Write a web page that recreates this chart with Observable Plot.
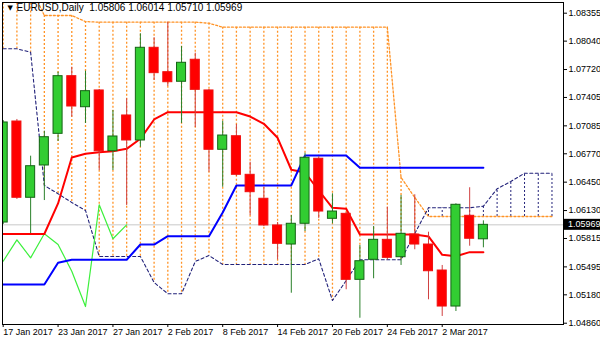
<!DOCTYPE html>
<html><head><meta charset="utf-8">
<script src="https://cdn.jsdelivr.net/npm/d3@7"></script>
<script src="https://cdn.jsdelivr.net/npm/@observablehq/plot@0.6"></script>
<style>
html,body{margin:0;padding:0;background:#fff;}
#chart{width:600px;height:343px;overflow:hidden}
svg{display:block}
</style></head><body><div id="chart"></div>
<script>
const FONT = '"Liberation Sans Narrow","Arial Narrow","Liberation Sans",Arial,sans-serif';
const symbolName = "EURUSD,Daily";
const dateLabels = ["17 Jan 2017","23 Jan 2017","27 Jan 2017","2 Feb 2017","8 Feb 2017","14 Feb 2017","20 Feb 2017","24 Feb 2017","2 Mar 2017"];
const dateTickBars = [0,4,8,12,16,20,24,28,32];
const priceTicks = [1.08355,1.08040,1.07720,1.07405,1.07085,1.06770,1.06450,1.06130,1.05815,1.05495,1.05180,1.04860];

const open  = [1.05995,1.07134,1.06274,1.06638,1.06995,1.07645,1.07295,1.07484,1.06799,1.07202,1.06920,1.07965,1.07690,1.07582,1.07830,1.07484,1.06815,1.06968,1.06533,1.06263,1.05962,1.05747,1.05981,1.06714,1.06037,1.06093,1.05349,1.05575,1.05800,1.05604,1.05860,1.05747,1.05454,1.05048,1.06071,1.05806];
const high  = [1.07145,1.07157,1.06743,1.07025,1.07690,1.07746,1.07701,1.07495,1.07258,1.07390,1.08123,1.08078,1.08254,1.07980,1.07904,1.07495,1.07137,1.07100,1.06675,1.06393,1.05995,1.06074,1.06777,1.06732,1.06319,1.06108,1.05736,1.05950,1.06168,1.06300,1.06308,1.05886,1.05511,1.06206,1.06387,1.06014];
const low   = [1.05973,1.06255,1.05871,1.06243,1.06909,1.07183,1.07112,1.06582,1.06582,1.06187,1.06844,1.07596,1.07529,1.07112,1.07066,1.06562,1.06393,1.06514,1.06074,1.05950,1.05575,1.05198,1.05894,1.06041,1.05981,1.05237,1.04916,1.05361,1.05575,1.05511,1.05688,1.05124,1.04936,1.04992,1.05728,1.05710];
const close = [1.07123,1.06274,1.06630,1.06957,1.07645,1.07303,1.07476,1.06799,1.06965,1.06920,1.07965,1.07679,1.07577,1.07796,1.07491,1.06815,1.06976,1.06533,1.06337,1.05962,1.05755,1.05981,1.06725,1.06119,1.06119,1.05349,1.05559,1.05800,1.05597,1.05868,1.05747,1.05446,1.05048,1.06195,1.05812,1.05969];

const tenkan = [1.05866,1.05866,1.05866,1.05866,1.06210,1.06728,1.06770,1.06788,1.06799,1.06826,1.06939,1.07157,1.07239,1.07239,1.07239,1.07239,1.07239,1.07239,1.07190,1.07108,1.06950,1.06590,1.06559,1.06356,1.06161,1.06150,1.05860,1.05860,1.05860,1.05860,1.05860,1.05838,1.05631,1.05615,1.05661,1.05661];
const kijun  = [1.05296,1.05296,1.05296,1.05296,1.05541,1.05575,1.05575,1.05575,1.05575,1.05575,1.05747,1.05747,1.05841,1.05841,1.05841,1.05841,1.06108,1.06413,1.06413,1.06413,1.06413,1.06413,1.06751,1.06751,1.06751,1.06751,1.06612,1.06612,1.06612,1.06612,1.06612,1.06612,1.06612,1.06612,1.06612,1.06612];
const chikou = [1.05559,1.05800,1.05597,1.05868,1.05747,1.05446,1.05048,1.06195,1.05812,1.05969];
const spanA  = [1.08650,1.08650,1.08650,1.08329,1.08329,1.08329,1.08260,1.08254,1.08254,1.08254,1.08254,1.08254,1.08254,1.08254,1.08254,1.08242,1.08197,1.08197,1.08197,1.08197,1.08197,1.08197,1.08197,1.08197,1.08197,1.08197,1.08197,1.08197,1.08197,1.06503,1.06277,1.06063,1.06063,1.06063,1.06063,1.06063,1.06063,1.06063,1.06063,1.06063,1.06063];
const spanB  = [1.07954,1.07954,1.07915,1.06413,1.06319,1.06221,1.06131,1.05612,1.05612,1.05612,1.05612,1.05319,1.05192,1.05192,1.05556,1.05623,1.05522,1.05522,1.05522,1.05522,1.05522,1.05522,1.05522,1.05586,1.05116,1.05341,1.05575,1.05575,1.05575,1.05575,1.05871,1.06161,1.06161,1.06161,1.06161,1.06179,1.06375,1.06458,1.06551,1.06551,1.06551];

const bars = open.map((o, i) => ({i, o, h: high[i], l: low[i], c: close[i], up: close[i] >= o}));
const cloud = spanA.map((a, i) => ({i, a, b: spanB[i]}));
const line = arr => arr.map((v, i) => ({i, v}));
const last = bars[bars.length - 1];
const titleStr = `${symbolName}  ${last.o.toFixed(5)} ${last.h.toFixed(5)} ${last.l.toFixed(5)} ${last.c.toFixed(5)}`;

const W = 600, H = 343, ML = 2, MR = 37, MT = 2, MB = 19;
const ORANGE = "#ff9326", NAVY = "#22227a";

const chart = Plot.plot({
  width: W, height: H,
  marginLeft: ML, marginRight: MR, marginTop: MT, marginBottom: MB,
  style: {fontFamily: FONT, fontSize: "9px", background: "#fff", color: "#000"},
  x: {type: "linear", domain: [-0.05, 40.84], label: null},
  y: {domain: [1.048454, 1.084756], label: null},
  marks: [
    Plot.ruleX(cloud.filter(d => d.a >= d.b), {x: "i", y1: "a", y2: "b", stroke: ORANGE, strokeWidth: 1.3, strokeDasharray: "2,2", clip: true}),
    Plot.ruleX(cloud.filter(d => d.a < d.b), {x: "i", y1: "a", y2: "b", stroke: NAVY, strokeWidth: 1, strokeDasharray: "2,2", clip: true}),
    Plot.line(cloud, {x: "i", y: "a", stroke: ORANGE, strokeWidth: 1.3, strokeDasharray: "2,2", clip: true}),
    Plot.line(cloud, {x: "i", y: "b", stroke: NAVY, strokeWidth: 1.1, strokeDasharray: "3,2.5", clip: true}),
    Plot.ruleY([last.c], {stroke: "#c8c8c8", strokeWidth: 1}),
    Plot.line(line(chikou), {x: "i", y: "v", stroke: "#3cf03c", strokeWidth: 1.2}),
    Plot.line(line(tenkan), {x: "i", y: "v", stroke: "#ff0000", strokeWidth: 2, clip: true}),
    Plot.line(line(kijun), {x: "i", y: "v", stroke: "#0000ff", strokeWidth: 2, clip: true}),
    Plot.ruleX(bars, {x: "i", y1: "l", y2: "h", stroke: d => d.up ? "#2a802a" : "#d04040", strokeWidth: 1, clip: true}),
    Plot.rect(bars, {x1: d => d.i - 0.33, x2: d => d.i + 0.33, y1: "o", y2: "c",
      fill: d => d.up ? "#32cd32" : "#ff0000", stroke: d => d.up ? "#146414" : "#f01010", strokeWidth: 1, clip: true}),
    Plot.frame({stroke: "#000", strokeWidth: 1}),
    Plot.axisY(priceTicks, {anchor: "right", tickFormat: d => d.toFixed(5), tickSize: 3, tickPadding: 2, fontSize: 9, label: null}),
    Plot.axisX(dateTickBars, {anchor: "bottom", tickFormat: d => dateLabels[dateTickBars.indexOf(d)], textAnchor: "start", tickSize: 3, tickPadding: 1, fontSize: 9, label: null}),
    Plot.text(["\u25BC"], {frameAnchor: "top-left", dx: 5, dy: 3, textAnchor: "start", lineAnchor: "top", fontSize: 7, fontFamily: "DejaVu Sans", fill: "#000"}),
    Plot.text([titleStr], {frameAnchor: "top-left", dx: 14, dy: 1, textAnchor: "start", lineAnchor: "top", fontSize: 10, fill: "#000"})
  ]
});
document.getElementById("chart").appendChild(chart);

// current price label (black box with white text) placed with the y scale
const yPix = chart.scale("y").apply(last.c);
const svg = d3.select(chart);
const g = svg.append("g").attr("text-anchor", "start");
g.append("rect").attr("x", W - MR + 1).attr("y", yPix - 5.5).attr("width", MR - 1).attr("height", 11).attr("fill", "#000");
g.append("text").attr("x", W - MR + 5).attr("y", yPix).attr("dy", "0.32em").attr("text-anchor", "start")
  .attr("fill", "#fff").attr("font-size", 9).attr("font-family", FONT).text(last.c.toFixed(5));
</script></body></html>
